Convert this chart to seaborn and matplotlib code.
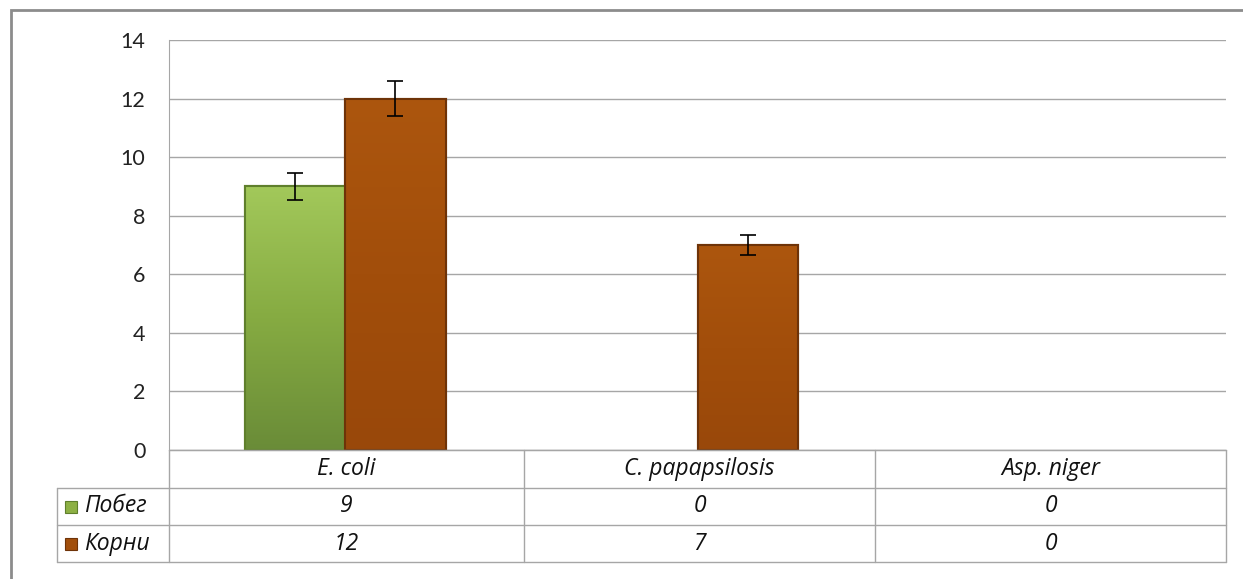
"""
Bar chart with data table (Excel style): zone of inhibition by organism
"""

import numpy as np
import pandas as pd
import matplotlib.pyplot as plt
import seaborn as sns
from matplotlib.patches import Rectangle
from matplotlib.lines import Line2D
from matplotlib.colors import LinearSegmentedColormap

sns.set_style("white")
plt.rcParams['font.family'] = ['Lato', 'DejaVu Sans']

organisms = ['E. coli', 'C. papapsilosis', 'Asp. niger']
series = ['Побег', 'Корни']
shoot_vals = [9, 0, 0]
root_vals = [12, 7, 0]
shoot_err = [0.47, 0, 0]
root_err = [0.6, 0.35, 0]
yticks = [0, 2, 4, 6, 8, 10, 12, 14]

colors = {'Побег': '#8DB044', 'Корни': '#A24F0C'}
edges = {'Побег': '#5F7F2C', 'Корни': '#6E3308'}
grads = {'Побег': ['#A2C85A', '#86AB42', '#6A8C38'],
         'Корни': ['#AC560E', '#A24E0B', '#99480A']}
grid_c = '#A6A6A6'

df = pd.DataFrame({
    'organism': organisms * 2,
    'part': [series[0]] * 3 + [series[1]] * 3,
    'value': shoot_vals + root_vals,
    'err': shoot_err + root_err,
})

W, H = 1243, 579
fig = plt.figure(figsize=(W / 100, H / 100), dpi=100, facecolor='white')


def fx(px):
    return px / W


def fy(py):
    return 1 - py / H


# outer chart frame
fig.patches.append(Rectangle((fx(11), fy(600)), fx(1250) - fx(11), fy(10) - fy(600),
                             transform=fig.transFigure, fill=False,
                             edgecolor='#8C8C8C', linewidth=2))

ax = fig.add_axes([fx(169), fy(450), fx(1226) - fx(169), fy(40) - fy(450)])
sns.barplot(data=df, x='organism', y='value', hue='part', order=organisms,
            hue_order=series, palette=colors, saturation=1, width=0.57,
            errorbar=None, legend=False, ax=ax, zorder=3)

for i, p in enumerate(list(ax.patches)):
    part = series[i // 3]
    row = df[(df['part'] == part)].iloc[i % 3]
    if p.get_height() > 0:
        p.set_edgecolor(edges[part])
        p.set_linewidth(1.5)
        x0, w, h = p.get_x(), p.get_width(), p.get_height()
        cmap = LinearSegmentedColormap.from_list(part, grads[part][::-1])
        grad = np.linspace(1, 0, 100).reshape(-1, 1)
        im = ax.imshow(grad, cmap=cmap, aspect='auto', extent=(x0, x0 + w, 0, h),
                       zorder=3.5, interpolation='bicubic')
        im.set_clip_path(p)
        ax.add_patch(Rectangle((x0, 0), w, h, fill=False, edgecolor=edges[part],
                               linewidth=1.5, zorder=3.8))
        x = x0 + w / 2
        ax.errorbar(x, h, yerr=row['err'], color='black',
                    capsize=6, elinewidth=1.2, capthick=1.2, zorder=5)
    else:
        p.set_linewidth(0)

ax.set_ylim(0, 14)
ax.set_xlim(-0.5, 2.5)
ax.set_yticks(yticks)
ax.yaxis.grid(True, color=grid_c, linewidth=1)
ax.set_axisbelow(True)
ax.set_xticks([])
ax.set_xlabel('')
ax.set_ylabel('')
ax.tick_params(axis='y', length=0, pad=17, labelsize=15.5, labelcolor='#222222')
for s in ['top', 'right']:
    ax.spines[s].set_visible(False)
ax.spines['left'].set_color(grid_c)
ax.spines['bottom'].set_color(grid_c)

# data table below the axis
cols = [169, 524, 875, 1226]
rows = [450, 488, 525, 562]


def hline(y, x0, x1):
    fig.lines.append(Line2D([fx(x0), fx(x1)], [fy(y), fy(y)], transform=fig.transFigure,
                            color=grid_c, linewidth=1))


def vline(x, y0, y1):
    fig.lines.append(Line2D([fx(x), fx(x)], [fy(y0), fy(y1)], transform=fig.transFigure,
                            color=grid_c, linewidth=1))


hline(450, 169, 1226)
for y in rows[1:]:
    hline(y, 57, 1226)
vline(169, 450, 562)
for x in cols[1:]:
    vline(x, 450, 562)
vline(57, 488, 562)

tfont = dict(family='Open Sans', style='italic', fontsize=16.5,
             color='#111111', ha='center', va='center')
for j, name in enumerate(organisms):
    cx = (cols[j] + cols[j + 1]) / 2
    fig.text(fx(cx), fy((rows[0] + rows[1]) / 2), name, **tfont)
    fig.text(fx(cx), fy((rows[1] + rows[2]) / 2), str(shoot_vals[j]), **tfont)
    fig.text(fx(cx), fy((rows[2] + rows[3]) / 2), str(root_vals[j]), **tfont)

for k, name in enumerate(series):
    cy = (rows[k + 1] + rows[k + 2]) / 2
    fig.patches.append(Rectangle((fx(65), fy(cy + 6)), fx(12), fy(cy - 6) - fy(cy + 6),
                                 transform=fig.transFigure, facecolor=colors[name],
                                 edgecolor=edges[name], linewidth=0.8))
    fig.text(fx(84), fy(cy), name, **{**tfont, 'ha': 'left'})

plt.savefig('out.png', dpi=100, facecolor='white')
plt.close()
